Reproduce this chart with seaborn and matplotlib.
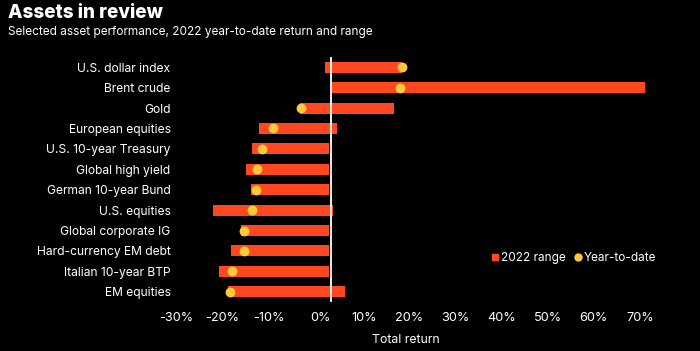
import matplotlib
matplotlib.use("Agg")
import matplotlib.pyplot as plt
import seaborn as sns
import pandas as pd
from matplotlib.lines import Line2D
from matplotlib.ticker import FuncFormatter

# values (% total return, 2022)
assets = ["U.S. dollar index", "Brent crude", "Gold", "European equities",
          "U.S. 10-year Treasury", "Global high yield", "German 10-year Bund",
          "U.S. equities", "Global corporate IG", "Hard-currency EM debt",
          "Italian 10-year BTP", "EM equities"]
range_low = [-1.3, 0.0, -6.8, -15.6, -17.2, -18.4, -17.4, -25.6, -19.6, -21.8, -24.4, -22.3]
range_high = [15.4, 68.0, 13.7, 1.2, -0.4, -0.4, -0.4, 0.5, -0.4, -0.4, -0.4, 3.0]
ytd = [15.4, 15.0, -6.6, -12.6, -15.0, -16.0, -16.3, -17.2, -18.9, -18.9, -21.4, -21.9]
xticks = [-30, -20, -10, 0, 10, 20, 30, 40, 50, 60, 70]

BAR = "#ff4820"
DOT = "#ffca3a"
BG = "black"

df = pd.DataFrame({"asset": assets, "low": range_low, "high": range_high, "ytd": ytd})
df["span"] = df["high"] - df["low"]

sns.set_theme(style="dark")
plt.rcParams["font.family"] = ["Inter", "DejaVu Sans"]

fig = plt.figure(figsize=(7, 3.51), dpi=100, facecolor=BG)
ax = fig.add_axes([0.2556, 0.1396, 0.718, 0.698])
ax.set_facecolor(BG)

sns.barplot(data=df, x="span", y="asset", order=assets, left=df["low"].tolist(),
            color=BAR, width=0.54, errorbar=None, saturation=1, linewidth=0, ax=ax)
ax.axvline(0, color="white", lw=1.3, zorder=2)
sns.scatterplot(data=df, x="ytd", y="asset", color=DOT, s=50, linewidth=0,
                zorder=3, ax=ax)

ax.set_xlim(-33, 76)
ax.set_ylim(11.5, -0.5)
ax.set_xticks(xticks)
ax.xaxis.set_major_formatter(FuncFormatter(lambda v, p: f"{v:.0f}%"))
for lab in ax.get_xticklabels():
    lab.set_ha("right")
ax.tick_params(axis="x", length=0, pad=7, colors="white", labelsize=9.2)
ax.tick_params(axis="y", length=0, pad=6, colors="white", labelsize=8.7)
ax.set_xlabel("")
ax.set_ylabel("")
ax.grid(False)
for s in ax.spines.values():
    s.set_visible(False)

fig.text(406 / 700, 1 - 340 / 351, "Total return", color="white", fontsize=8.8,
         ha="center", va="center")
fig.text(8 / 700, 1 - 13 / 351, "Assets in review", color="white", fontsize=13.6,
         fontweight="heavy", ha="left", va="center")
fig.text(8 / 700, 1 - 32 / 351, "Selected asset performance, 2022 year-to-date return and range",
         color="white", fontsize=8.5, ha="left", va="center")

handles = [Line2D([], [], marker="s", ls="", color=BAR, markersize=5),
           Line2D([], [], marker="o", ls="", color=DOT, markersize=5)]
fig.legend(handles, ["2022 range", "Year-to-date"], loc="center left",
           bbox_to_anchor=(478 / 700, 1 - 258 / 351), ncol=2, frameon=False,
           labelcolor="white", fontsize=8.5, handletextpad=0.05, columnspacing=0.5,
           handlelength=1.0)

fig.savefig("out.png", dpi=100, facecolor=BG)
